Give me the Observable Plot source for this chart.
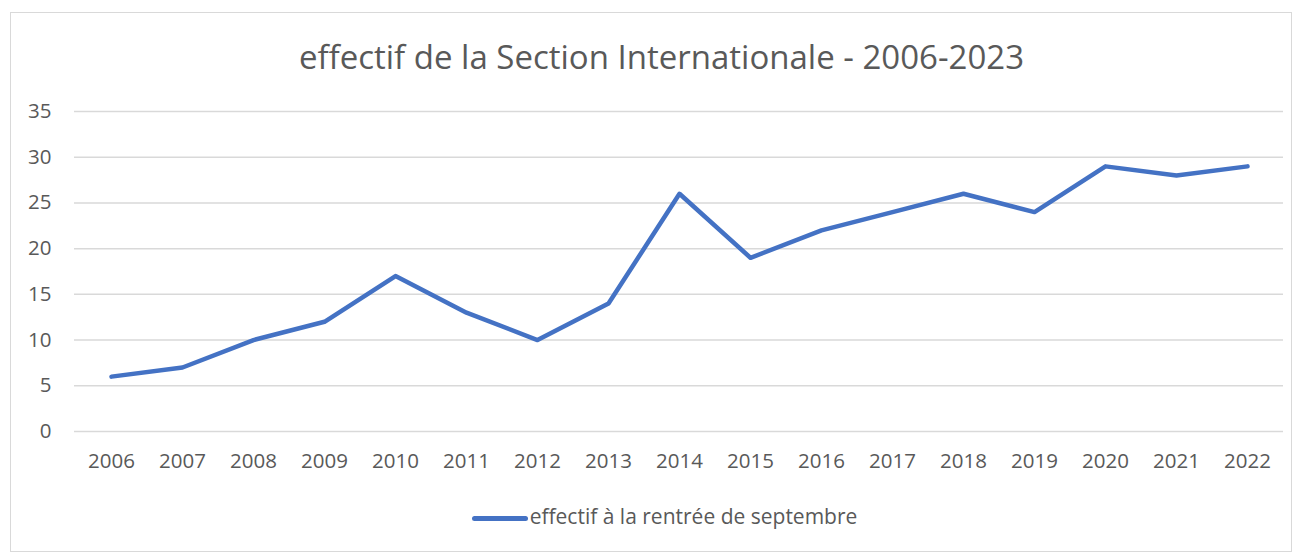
<!DOCTYPE html>
<html>
<head>
<meta charset="utf-8">
<script src="https://cdn.jsdelivr.net/npm/d3@7"></script>
<script src="https://cdn.jsdelivr.net/npm/@observablehq/plot@0.6"></script>
<style>
  html, body { margin: 0; padding: 0; background: #fff; }
  #wrap { position: relative; width: 1303px; height: 554px; font-family: "Open Sans", sans-serif; color: #595959; }
  #frame { position: absolute; left: 10px; top: 12px; width: 1282px; height: 540px; border: 1px solid #d9d9d9; box-sizing: border-box; }
  #title { position: absolute; left: 0; width: 1323px; top: 34px; text-align: center; font-size: 33px; line-height: 46px; }
  #chart { position: absolute; left: 0; top: 90px; }
  #legend { position: absolute; left: 0; width: 1329px; top: 502px; text-align: center; font-size: 21px; line-height: 28px; }
  #legend .sw { display: inline-block; width: 56px; height: 5px; background: #4472C4; border-radius: 3px; vertical-align: middle; margin-right: 2px; }
</style>
</head>
<body>
<div id="wrap">
  <div id="frame"></div>
  <div id="title">effectif de la Section Internationale - 2006-2023</div>
  <div id="chart"></div>
  <div id="legend"><span class="sw"></span>effectif à la rentrée de septembre</div>
</div>
<script>
const years = ["2006","2007","2008","2009","2010","2011","2012","2013","2014","2015","2016","2017","2018","2019","2020","2021","2022"];
const effectif = [6, 7, 10, 12, 17, 13, 10, 14, 26, 19, 22, 24, 26, 24, 29, 28, 29];
const yTicks = [0, 5, 10, 15, 20, 25, 30, 35];

const data = years.map((y, i) => ({year: y, value: effectif[i]}));

const chart = Plot.plot({
  width: 1303,
  height: 391,
  marginLeft: 74,
  marginRight: 20,
  marginTop: 21,
  marginBottom: 50,
  style: { fontFamily: "Open Sans, sans-serif", fontSize: "20.5px", color: "#595959", background: "transparent" },
  x: { type: "point", domain: years, padding: 0.5, label: null, tickSize: 0, tickPadding: 22 },
  y: { domain: [0, 35], ticks: yTicks, label: null, tickSize: 0, tickPadding: 23 },
  marks: [
    Plot.ruleY(yTicks, { stroke: "#d9d9d9", strokeWidth: 1.5 }),
    Plot.line(data, { x: "year", y: "value", stroke: "#4472C4", strokeWidth: 4.5, strokeLinejoin: "round", strokeLinecap: "round" })
  ]
});
document.getElementById("chart").appendChild(chart);
</script>
</body>
</html>
